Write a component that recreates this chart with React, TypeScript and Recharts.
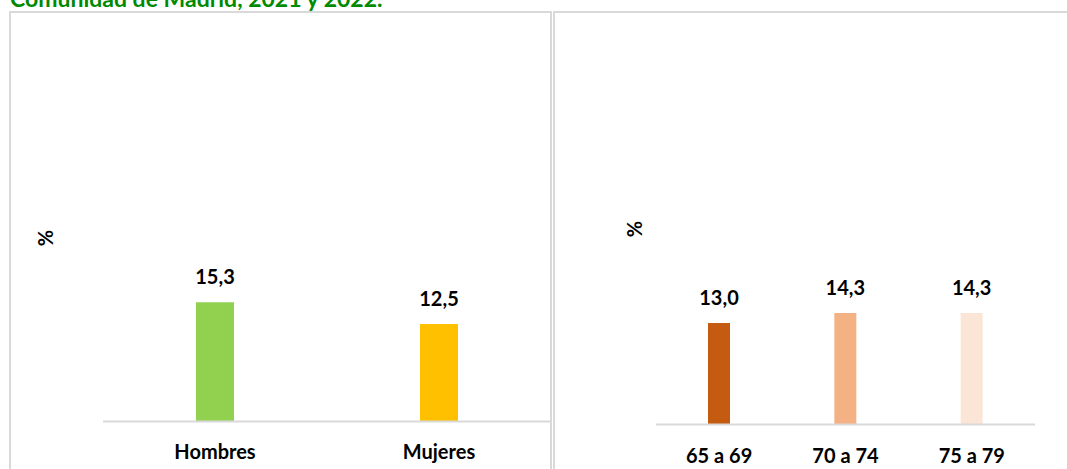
import { Bar, BarChart, Cell, LabelList, XAxis, YAxis } from "recharts";

const sexCategories = ["Hombres", "Mujeres"];
const sexValues = [15.3, 12.5];
const sexColors = ["#92D050", "#FFC000"];

const ageCategories = ["65 a 69", "70 a 74", "75 a 79"];
const ageValues = [13.0, 14.3, 14.3];
const ageColors = ["#C55A11", "#F4B183", "#FBE5D6"];

const titleText = "Comunidad de Madrid, 2021 y 2022.";
const unitLabel = "%";

const FONT = "Lato, 'Open Sans', sans-serif";
const BORDER = "#d9d9d9";

const sexData = sexCategories.map((name, i) => ({ name, value: sexValues[i] }));
const ageData = ageCategories.map((name, i) => ({ name, value: ageValues[i] }));

const fmt = (v: any) => Number(v).toFixed(1).replace(".", ",");

const CategoryTick = ({ x, y, payload, dy }: any) => (
  <text x={x} y={y + dy} textAnchor="middle" fontFamily={FONT} fontWeight={700} fontSize={20} fill="#000">
    {payload.value}
  </text>
);

interface PanelChartProps {
  data: { name: string; value: number }[];
  colors: string[];
  width: number;
  margin: { top: number; right: number; left: number; bottom: number };
  barSize: number;
  tickDy: number;
}

const PanelChart = ({ data, colors, width, margin, barSize, tickDy }: PanelChartProps) => (
  <BarChart width={width} height={469} data={data} margin={margin}>
    <XAxis
      dataKey="name"
      height={30}
      axisLine={{ stroke: BORDER, strokeWidth: 2 }}
      tickLine={false}
      tickSize={0}
      tickMargin={0}
      interval={0}
      tick={<CategoryTick dy={tickDy} />}
    />
    <YAxis hide domain={[0, 50]} />
    <Bar dataKey="value" barSize={barSize} isAnimationActive={false}>
      {data.map((entry, index) => (
        <Cell key={`cell-${index}`} fill={colors[index % colors.length]} />
      ))}
      <LabelList
        dataKey="value"
        position="top"
        offset={18}
        formatter={fmt}
        style={{ fontFamily: FONT, fontWeight: 700, fontSize: 20, fill: "#000" }}
      />
    </Bar>
  </BarChart>
);

export default function App() {
  return (
    <div style={{ position: "fixed", left: 0, top: 0, width: 1067, height: 469, overflow: "hidden", background: "#fff" }}>
      <div
        style={{
          position: "absolute",
          left: 9,
          top: 11,
          width: 543,
          height: 520,
          border: `2px solid ${BORDER}`,
          boxSizing: "border-box",
        }}
      />
      <div
        style={{
          position: "absolute",
          left: 553,
          top: 11,
          width: 600,
          height: 520,
          border: `2px solid ${BORDER}`,
          boxSizing: "border-box",
        }}
      />
      <svg style={{ position: "absolute", left: 0, top: 0 }} width={1067} height={469}>
        <text x={10} y={7} fontFamily={FONT} fontWeight={700} fontSize={23} fill="#008a00">
          {titleText}
        </text>
        <text
          x={53}
          y={238}
          transform="rotate(-90 53 238)"
          textAnchor="middle"
          fontFamily={FONT}
          fontWeight={700}
          fontSize={20}
          fill="#000"
        >
          {unitLabel}
        </text>
        <text
          x={642}
          y={229}
          transform="rotate(-90 642 229)"
          textAnchor="middle"
          fontFamily={FONT}
          fontWeight={700}
          fontSize={20}
          fill="#000"
        >
          {unitLabel}
        </text>
      </svg>
      <div style={{ position: "absolute", left: 0, top: 0 }}>
        <PanelChart
          data={sexData}
          colors={sexColors}
          width={560}
          margin={{ top: 31.5, right: 9, left: 103, bottom: 17.5 }}
          barSize={38}
          tickDy={37.5}
        />
      </div>
      <div style={{ position: "absolute", left: 560, top: 0 }}>
        <PanelChart
          data={ageData}
          colors={ageColors}
          width={507}
          margin={{ top: 34.5, right: 32, left: 96, bottom: 14.5 }}
          barSize={22}
          tickDy={38.5}
        />
      </div>
    </div>
  );
}
